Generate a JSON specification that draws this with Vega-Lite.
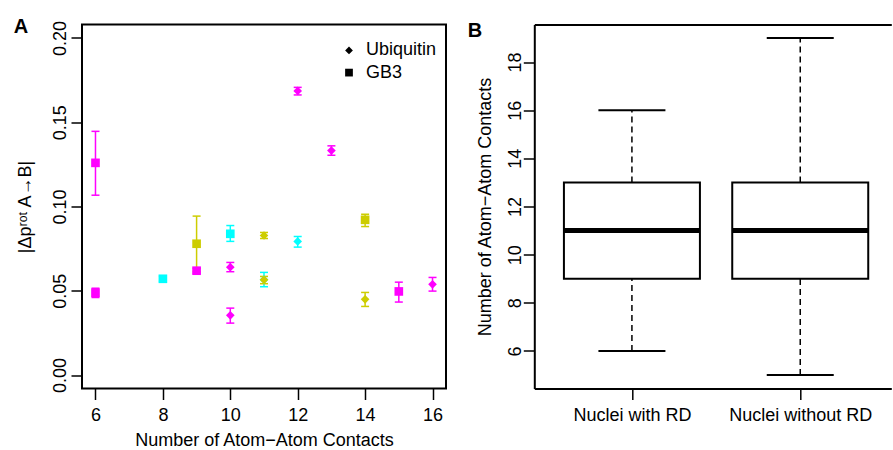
{
  "$schema": "https://vega.github.io/schema/vega-lite/v6.json",
  "padding": {"left": 12, "top": 15.5, "right": 0, "bottom": 0},
  "background": "white",
  "config": {
    "font": "Liberation Sans",
    "axis": {
      "labelFont": "Liberation Sans", "titleFont": "Liberation Sans",
      "labelFontSize": 18, "titleFontSize": 18, "titleFontWeight": "normal",
      "labelColor": "black", "titleColor": "black",
      "tickColor": "black", "tickSize": 11, "tickWidth": 1.5,
      "domainColor": "black", "domainWidth": 2, "grid": false, "labelPadding": 4
    },
    "axisX": {"labelPadding": 6.5},
    "legend": {"labelFont": "Liberation Sans", "labelFontSize": 18, "labelColor": "black"},
    "title": {"font": "Liberation Sans", "fontSize": 20, "fontWeight": "bold", "color": "black", "anchor": "start", "frame": "bounds"}
  },
  "datasets": {
    "pts": [
      {"contacts": 6, "value": 0.1259, "lo": 0.1067, "hi": 0.1446, "protein": "GB3", "series": "I"},
      {"contacts": 6, "value": 0.0488, "lo": 0.0460, "hi": 0.0515, "protein": "GB3", "series": "I"},
      {"contacts": 8, "value": 0.0571, "lo": 0.0556, "hi": 0.0586, "protein": "GB3", "series": "II"},
      {"contacts": 9, "value": 0.0779, "lo": 0.0615, "hi": 0.0943, "protein": "GB3", "series": "III"},
      {"contacts": 9, "value": 0.0619, "lo": 0.0605, "hi": 0.0633, "protein": "GB3", "series": "I"},
      {"contacts": 10, "value": 0.0838, "lo": 0.0793, "hi": 0.0887, "protein": "GB3", "series": "II"},
      {"contacts": 14, "value": 0.0921, "lo": 0.0881, "hi": 0.0954, "protein": "GB3", "series": "III"},
      {"contacts": 15, "value": 0.0496, "lo": 0.0433, "hi": 0.0551, "protein": "GB3", "series": "I"},
      {"contacts": 10, "value": 0.0640, "lo": 0.0613, "hi": 0.0668, "protein": "Ubiquitin", "series": "I"},
      {"contacts": 10, "value": 0.0354, "lo": 0.0308, "hi": 0.0397, "protein": "Ubiquitin", "series": "I"},
      {"contacts": 11, "value": 0.0566, "lo": 0.0524, "hi": 0.0609, "protein": "Ubiquitin", "series": "II"},
      {"contacts": 11, "value": 0.0828, "lo": 0.0810, "hi": 0.0846, "protein": "Ubiquitin", "series": "III"},
      {"contacts": 11, "value": 0.0565, "lo": 0.0542, "hi": 0.0585, "protein": "Ubiquitin", "series": "III"},
      {"contacts": 12, "value": 0.1686, "lo": 0.1662, "hi": 0.1707, "protein": "Ubiquitin", "series": "I"},
      {"contacts": 12, "value": 0.0793, "lo": 0.0759, "hi": 0.0822, "protein": "Ubiquitin", "series": "II"},
      {"contacts": 13, "value": 0.1332, "lo": 0.1304, "hi": 0.1360, "protein": "Ubiquitin", "series": "I"},
      {"contacts": 14, "value": 0.0449, "lo": 0.0407, "hi": 0.0490, "protein": "Ubiquitin", "series": "III"},
      {"contacts": 16, "value": 0.0538, "lo": 0.0498, "hi": 0.0579, "protein": "Ubiquitin", "series": "I"}
    ],
    "box": [
      {"pos": 1, "group": "Nuclei with RD", "lower": 6, "q1": 9, "median": 11, "q3": 13, "upper": 16},
      {"pos": 2, "group": "Nuclei without RD", "lower": 5, "q1": 9, "median": 11, "q3": 13, "upper": 19}
    ]
  },
  "spacing": 20.3,
  "resolve": {"legend": {"shape": "independent", "color": "independent"}, "scale": {"x": "independent", "y": "independent", "color": "independent", "shape": "independent"}},
  "hconcat": [
    {
      "width": 364, "height": 364,
      "view": {"stroke": "black", "strokeWidth": 2},
      "title": {"text": "A", "offset": -16.5, "dx": -3},
      "data": {"name": "pts"},
      "layer": [
        {
          "mark": {"type": "rule", "strokeWidth": 1.5},
          "encoding": {
            "x": {"field": "contacts", "type": "quantitative", "scale": {"domain": [5.6, 16.4], "nice": false, "zero": false, "padding": 0}, "title": "Number of Atom−Atom Contacts"},
            "y": {"field": "lo", "type": "quantitative", "scale": {"domain": [-0.008, 0.208], "nice": false, "zero": false, "padding": 0}, "title": "|Δpʳᵒᵗ A→B|"},
            "y2": {"field": "hi"},
            "color": {"field": "series", "type": "nominal", "scale": {"domain": ["I", "II", "III"], "range": ["#FF00FF", "#00FFFF", "#CDCD00"]}, "legend": null}
          }
        },
        {
          "mark": {"type": "tick", "orient": "horizontal", "size": 8, "thickness": 1.5, "opacity": 1},
          "encoding": {
            "x": {"field": "contacts", "type": "quantitative", "title": "Number of Atom−Atom Contacts"},
            "y": {"field": "lo", "type": "quantitative", "title": "|Δpʳᵒᵗ A→B|"},
            "color": {"field": "series", "type": "nominal", "legend": null}
          }
        },
        {
          "mark": {"type": "tick", "orient": "horizontal", "size": 8, "thickness": 1.5, "opacity": 1},
          "encoding": {
            "x": {"field": "contacts", "type": "quantitative", "title": "Number of Atom−Atom Contacts"},
            "y": {"field": "hi", "type": "quantitative", "title": "|Δpʳᵒᵗ A→B|"},
            "color": {"field": "series", "type": "nominal", "legend": null}
          }
        },
        {
          "mark": {"type": "point", "filled": true, "opacity": 1, "size": 75},
          "encoding": {
            "x": {"field": "contacts", "type": "quantitative", "title": "Number of Atom−Atom Contacts",
              "axis": {"values": [6, 8, 10, 12, 14, 16], "domain": false, "labelAngle": 0, "titlePadding": 7.5}},
            "y": {"field": "value", "type": "quantitative", "title": "|Δpʳᵒᵗ A→B|",
              "axis": {"values": [0, 0.05, 0.1, 0.15, 0.2], "format": ".2f", "domain": false, "labelAngle": -90, "labelAlign": "center", "labelBaseline": "alphabetic", "labelPadding": 5.5, "titlePadding": 16.8}},
            "color": {"field": "series", "type": "nominal", "legend": null},
            "shape": {"field": "protein", "type": "nominal", "scale": {"domain": ["Ubiquitin", "GB3"], "range": ["diamond", "square"]},
              "legend": {"orient": "none", "legendX": 258, "legendY": 16.9, "title": null, "padding": 0, "symbolFillColor": "black", "symbolStrokeColor": "black", "symbolStrokeWidth": 0, "symbolSize": 60, "labelOffset": 8, "rowPadding": 4.2}}
          }
        }
      ]
    },
    {
      "width": 357, "height": 364,
      "view": {"stroke": null},
      "title": {"text": "B", "offset": -16.5, "dx": -9},
      "data": {"name": "box"},
      "resolve": {"axis": {"x": "independent"}},
      "layer": [
        {
          "mark": {"type": "rule", "strokeWidth": 1.5, "strokeDash": [6, 4], "color": "black"},
          "encoding": {
            "x": {"field": "pos", "type": "quantitative", "scale": {"domain": [0.42, 2.541], "nice": false, "zero": false, "padding": 0},
              "axis": {"values": [1, 2], "labelExpr": "datum.value == 1 ? 'Nuclei with RD' : 'Nuclei without RD'", "labelAngle": 0, "title": null, "domain": true}},
            "y": {"field": "q3", "type": "quantitative", "scale": {"domain": [4.44, 19.56], "nice": false, "zero": false, "padding": 0}, "title": "Number of Atom−Atom Contacts",
              "axis": {"values": [6, 8, 10, 12, 14, 16, 18], "domain": true, "labelAngle": -90, "labelAlign": "center", "labelBaseline": "alphabetic", "labelPadding": 3, "titlePadding": 11.5}},
            "y2": {"field": "upper"}
          }
        },
        {
          "mark": {"type": "rule", "strokeWidth": 1.5, "strokeDash": [6, 4], "color": "black"},
          "encoding": {
            "x": {"field": "pos", "type": "quantitative",
              "axis": {"orient": "top", "labels": false, "ticks": false, "domain": true, "title": null}},
            "y": {"field": "lower", "type": "quantitative", "title": "Number of Atom−Atom Contacts"},
            "y2": {"field": "q1"}
          }
        },
        {
          "mark": {"type": "bar", "width": 136, "fill": "white", "stroke": "black", "strokeWidth": 2},
          "encoding": {
            "x": {"field": "pos", "type": "quantitative", "axis": null},
            "y": {"field": "q1", "type": "quantitative", "title": "Number of Atom−Atom Contacts"},
            "y2": {"field": "q3"}
          }
        },
        {
          "mark": {"type": "tick", "orient": "horizontal", "size": 136, "thickness": 5, "color": "black", "opacity": 1},
          "encoding": {
            "x": {"field": "pos", "type": "quantitative", "axis": null},
            "y": {"field": "median", "type": "quantitative", "title": "Number of Atom−Atom Contacts"}
          }
        },
        {
          "mark": {"type": "tick", "orient": "horizontal", "size": 67, "thickness": 2, "color": "black", "opacity": 1},
          "encoding": {
            "x": {"field": "pos", "type": "quantitative", "axis": null},
            "y": {"field": "upper", "type": "quantitative", "title": "Number of Atom−Atom Contacts"}
          }
        },
        {
          "mark": {"type": "tick", "orient": "horizontal", "size": 67, "thickness": 2, "color": "black", "opacity": 1},
          "encoding": {
            "x": {"field": "pos", "type": "quantitative", "axis": null},
            "y": {"field": "lower", "type": "quantitative", "title": "Number of Atom−Atom Contacts"}
          }
        }
      ]
    }
  ]
}
